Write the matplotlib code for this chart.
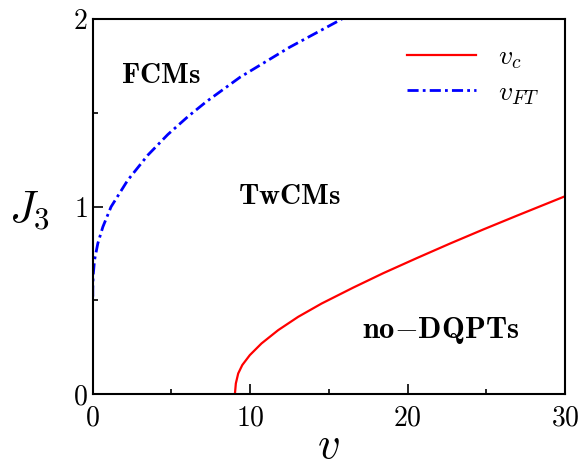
import numpy as np
from matplotlib import pyplot as plt
from matplotlib.ticker import MultipleLocator

plt.rcParams['font.family'] = 'serif'
plt.rcParams['font.serif'] = ['cmr10']
plt.rcParams['mathtext.fontset'] = 'cm'
plt.rcParams['axes.formatter.use_mathtext'] = True
plt.rcParams['axes.unicode_minus'] = False

# critical line v_c
v_c = [9.03, 9.09, 9.24, 9.5, 9.98, 10.72, 11.78, 13.05, 14.54, 16.55,
       18.46, 20.58, 22.7, 24.81, 26.93, 30.0]
J_c = [0.0, 0.057, 0.11, 0.155, 0.208, 0.27, 0.341, 0.412, 0.483, 0.568,
       0.645, 0.725, 0.803, 0.878, 0.951, 1.055]

# v_FT line
v_ft = [0.0, 0.0, 0.02, 0.11, 0.32, 0.64, 1.16, 2.22, 3.5, 4.77, 6.04, 7.2,
        9.35, 12.5, 15.7, 16.0]
J_ft = [0.52, 0.56, 0.63, 0.715, 0.804, 0.892, 0.999, 1.141, 1.275, 1.385, 1.48,
        1.559, 1.69, 1.85, 1.995, 2.01]

fig = plt.figure(figsize=(5.8, 4.68), dpi=100)
ax = fig.add_axes([0.160, 0.158, 0.814, 0.801])

ax.plot(v_c, J_c, color='red', lw=1.6, label=r'$v_c$')
ax.plot(v_ft, J_ft, color='blue', lw=2.0, dashes=(4, 1.5, 1, 1.5), label=r'$v_{FT}$')

ax.set_xlim(0, 30)
ax.set_ylim(0, 2)
ax.xaxis.set_major_locator(MultipleLocator(10))
ax.xaxis.set_minor_locator(MultipleLocator(5))
ax.yaxis.set_major_locator(MultipleLocator(1))
ax.yaxis.set_minor_locator(MultipleLocator(0.5))
ax.tick_params(which='both', direction='in', labelsize=20, width=1.2)
ax.tick_params(which='major', length=7)
ax.tick_params(which='minor', length=3.6)
ax.tick_params(axis='x', pad=8)
for s in ax.spines.values():
    s.set_linewidth(1.5)

ax.set_xlabel(r'$v$', fontsize=32, labelpad=-3)
ax.set_ylabel(r'$J_3$', fontsize=32, rotation=0, labelpad=8, va='center')
ax.yaxis.set_label_coords(-0.135, 0.49)

ax.text(4.3, 1.7, r'$\mathbf{FCMs}$', fontsize=21, ha='center', va='center')
ax.text(12.5, 1.05, r'$\mathbf{TwCMs}$', fontsize=21, ha='center', va='center')
ax.text(22.1, 0.34, r'$\mathbf{no{-}DQPTs}$', fontsize=22, ha='center', va='center')

ax.legend(loc='upper right', frameon=False, fontsize=20, handlelength=2.5,
          borderaxespad=0.5, labelspacing=0.3, handletextpad=0.8)

fig.savefig('out.png', dpi=100)
